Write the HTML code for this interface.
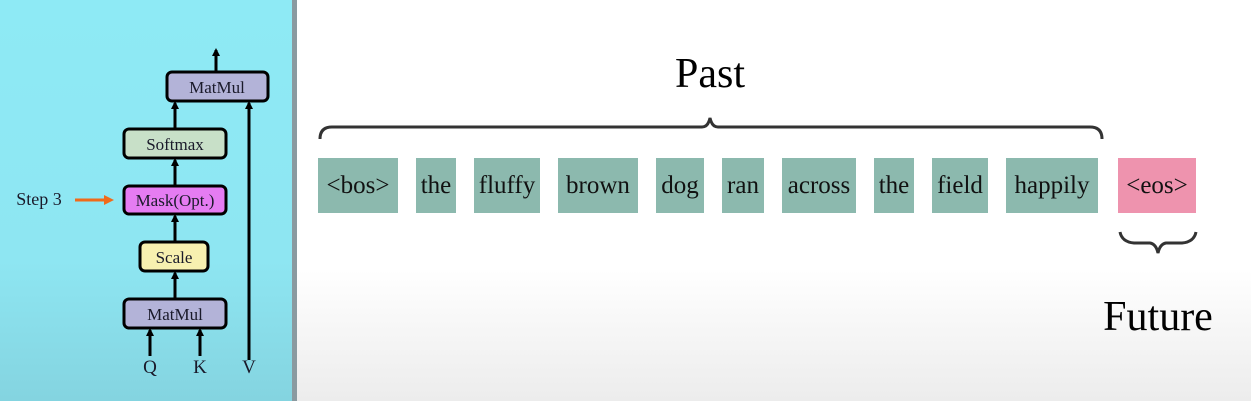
<!DOCTYPE html>
<html><head><meta charset="utf-8"><style>
body{margin:0;width:1251px;height:401px;overflow:hidden;position:relative;font-family:"Liberation Serif",serif;background:linear-gradient(#fff 0,#fff 270px,#ececec 401px)}
#left{position:absolute;left:0;top:0;width:292px;height:401px;background:linear-gradient(#8eeaf5 0,#8ee6f2 260px,#84d4e0 401px)}
#div{position:absolute;left:292px;top:0;width:5px;height:401px;background:#8a9aa0}
</style></head><body>
<div id="left"></div>
<div id="div"></div>
<svg width="1251" height="401" style="position:absolute;left:0;top:0" font-family="Liberation Serif, serif">
<defs><marker id="ah" markerWidth="8" markerHeight="8" refX="6" refY="4" orient="auto" markerUnits="userSpaceOnUse"><path d="M0,0 L8,4 L0,8 Z" fill="#000"/></marker></defs>
<g stroke="#000" stroke-width="3">
<line x1="216" y1="72" x2="216" y2="50" marker-end="url(#ah)"/>
<line x1="249" y1="360" x2="249" y2="103" marker-end="url(#ah)"/>
<line x1="175" y1="128" x2="175" y2="103" marker-end="url(#ah)"/>
<line x1="175" y1="186" x2="175" y2="160" marker-end="url(#ah)"/>
<line x1="175" y1="242" x2="175" y2="216" marker-end="url(#ah)"/>
<line x1="175" y1="299" x2="175" y2="273" marker-end="url(#ah)"/>
<line x1="150" y1="356" x2="150" y2="330" marker-end="url(#ah)"/>
<line x1="200" y1="356" x2="200" y2="330" marker-end="url(#ah)"/>
<rect x="167" y="72" width="101" height="29" rx="5" fill="#b3b3d8"/>
<rect x="124" y="129" width="102" height="29" rx="5" fill="#c8e0c8"/>
<rect x="124" y="186" width="102" height="28" rx="5" fill="#e57cf2"/>
<rect x="140" y="242" width="68" height="29" rx="5" fill="#f7f0b0"/>
<rect x="124" y="299" width="102" height="29" rx="5" fill="#b3b3d8"/>
</g>
<g font-size="17" fill="#1a1a2a" text-anchor="middle">
<text x="217" y="93">MatMul</text>
<text x="175" y="150">Softmax</text>
<text x="175" y="206">Mask(Opt.)</text>
<text x="174" y="263">Scale</text>
<text x="175" y="320">MatMul</text>
<text x="150" y="373" font-size="19">Q</text>
<text x="200" y="373" font-size="19">K</text>
<text x="249" y="373" font-size="19">V</text>
<text x="39" y="205" font-size="18">Step 3</text>
</g>
<g><line x1="75" y1="200" x2="106" y2="200" stroke="#f06a1a" stroke-width="3"/><path d="M104,195 L114,200 L104,205Z" fill="#f06a1a"/></g>
<path d="M320,139 Q320,127 332,127 L702,127 Q708,127 710,118 Q712,127 718,127 L1090,127 Q1102,127 1102,139" fill="none" stroke="#333" stroke-width="3"/>
<text x="710" y="87" font-size="42" text-anchor="middle">Past</text>
<path d="M1120,232 Q1122,242 1134,243 L1150,243 Q1156,244 1158,253 Q1160,244 1166,243 L1182,243 Q1194,242 1196,232" fill="none" stroke="#333" stroke-width="3"/>
<text x="1158" y="330" font-size="42" text-anchor="middle">Future</text>
<g id="tokens"></g>
</svg>
<script>
const tokenLabels=["<bos>","the","fluffy","brown","dog","ran","across","the","field","happily","<eos>"];
const tokenStart=[318,416,474,558,656,722,782,874,932,1006,1118];
const tokenEnd=[398,456,540,638,704,764,856,914,988,1098,1196];
const tokenIsFuture=[0,0,0,0,0,0,0,0,0,0,1];
const g=document.getElementById('tokens');
const ns='http://www.w3.org/2000/svg';
tokenLabels.forEach((t,i)=>{
  const r=document.createElementNS(ns,'rect');
  r.setAttribute('x',tokenStart[i]);r.setAttribute('y',158);
  r.setAttribute('width',tokenEnd[i]-tokenStart[i]);r.setAttribute('height',55);
  r.setAttribute('fill',tokenIsFuture[i]?'#ee93ae':'#8cb9ae');
  
  
  g.appendChild(r);
  const tx=document.createElementNS(ns,'text');
  tx.setAttribute('x',(tokenStart[i]+tokenEnd[i])/2);tx.setAttribute('y',193);
  tx.setAttribute('text-anchor','middle');tx.setAttribute('font-size','25');tx.setAttribute('fill','#111');
  tx.textContent=t;
  
  
  g.appendChild(tx);
});
</script>
</body></html>
